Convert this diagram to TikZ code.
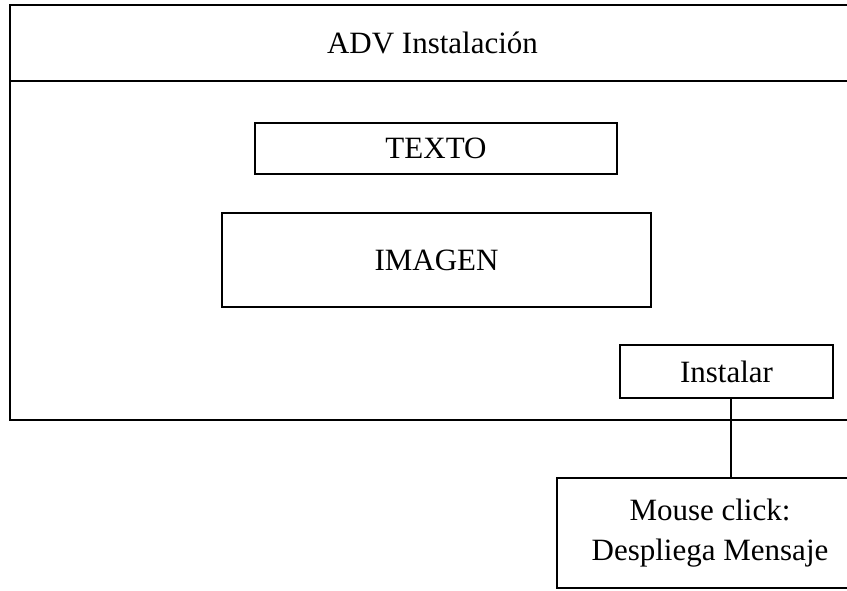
\documentclass[tikz,border=0pt]{standalone}
\usepackage{fontspec}
\setmainfont{Liberation Serif}
\usepackage{tikz}

\begin{document}
\begin{tikzpicture}[
    x=0.5pt, y=-0.5pt,
    caja/.style={draw, line width=1pt, inner sep=0pt, align=center,
        font=\fontsize{15.5}{20}\selectfont}
]

    \useasboundingbox (0,0) rectangle (847,590);

    % Ventana principal
    \node[caja, minimum width=422.5pt, minimum height=207.5pt] (ventana) at (432.5, 212.5) {};
    \draw[line width=1pt] (ventana.west |- 0,81) -- (ventana.east |- 0,81);
    \node[caja, draw=none] (titulo) at (432.5, 43) {ADV Instalación};

    % Contenido
    \node[caja, minimum width=181pt, minimum height=25.5pt] (texto) at (436, 148.5) {TEXTO};
    \node[caja, minimum width=214.5pt, minimum height=47pt] (imagen) at (436.5, 260) {IMAGEN};

    % Boton y evento
    \node[caja, minimum width=106.5pt, minimum height=26.5pt] (instalar) at (726.5, 371.5) {Instalar};
    \node[caja, minimum width=153pt, minimum height=55pt] (mensaje) at (710, 533) {Mouse click:\\Despliega Mensaje};

    \draw[line width=1pt] ([xshift=2pt]instalar.south) -- ([xshift=2pt]instalar.south |- mensaje.north);

\end{tikzpicture}
\end{document}
